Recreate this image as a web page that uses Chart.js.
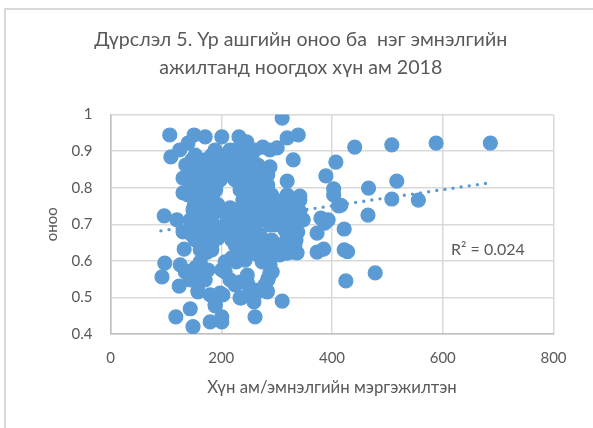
<!DOCTYPE html>
<html><head><meta charset="utf-8">
<script src="https://cdn.jsdelivr.net/npm/chart.js@4"></script>
<style>
html,body{margin:0;padding:0;background:#fff;overflow:hidden}
#wrap{position:relative;width:593px;height:428px}
#wrap:before{content:"";position:absolute;left:4px;top:8px;right:-5px;bottom:-5px;border:2px solid #d9d9d9}
canvas{position:absolute;left:0;top:0}
</style></head><body>
<div id="wrap"><canvas id="c" width="593" height="428"></canvas></div>
<script>
const chartTitle = ["Дүрслэл 5. Үр ашгийн оноо ба  нэг эмнэлгийн", "ажилтанд ноогдох хүн ам 2018"];
const xAxisTitle = "Хүн ам/эмнэлгийн мэргэжилтэн";
const yAxisTitle = "оноо";
const r2Label = "R² = 0.024";
const population = [
441,508,588,686,466,517,508,556,465,478,425,422,422,428,416,407,310,339,319,330,288,389,403,403,412,342,342,319,380,393,373,387,373,385,
310,261,236,259,283,270,288,285,337,319,144,118,149,180,201,201,189,189,234,
98,93,124,126,158,133,107,109,131,131,151,97,120,151,171,201,232,140,246,275,125,301,
189,216,243,261,288,
147,171,194,216,239,256,
147,171,194,216,243,261,
153,171,198,225,252,274,
153,174,190,234,256,279,
156,183,239,261,284,312,328,
149,171,198,225,252,279,306,333,
144,171,183,216,243,270,297,324,348,
153,180,207,234,261,288,315,333,
147,171,198,225,252,270,324,335,
171,183,225,252,279,306,333,
174,162,176,153,140,207,201,219,243,266,288,306,328,288,292,284,279,247,207,216,234,247,261,283,158,171,144,198,203,189,
153,183,207,230,250,
136,158,183,205,228,252,266,
144,162,183,209,234,263,279,
144,162,183,245,266,284,
140,167,185,243,266,291,319,
158,185,216,239,266,291,319,
158,183,209,234,259,284,311,335,
131,158,183,216,239,261,315,338,
153,176,194,219,243,266,291,320,335,
162,183,230,261,288,315,
243,274,227,162,144,180,135,274,225,252,
274,297,320,297,342,318,279,249,274,234,219,194,171,162,171,156,284,248,225];
const score = [
.911,.917,.922,.922,.799,.818,.769,.766,.725,.567,.545,.687,.63,.625,.752,.87,.99,.944,.936,.876,.857,.832,.797,.78,.75,.777,.766,.818,.717,.712,.676,.703,.624,.632,
.49,.447,.499,.488,.518,.518,.567,.553,.622,.621,.469,.447,.42,.433,.433,.447,.493,.477,.499,
.594,.556,.531,.589,.518,.632,.944,.884,.826,.786,.75,.723,.712,.944,.939,.939,.939,.922,.925,.911,.903,.909,
.903,.903,.903,.903,.903,
.876,.876,.876,.876,.876,.876,
.848,.848,.848,.848,.848,.848,
.821,.821,.821,.821,.821,.821,
.794,.794,.794,.794,.794,.794,
.766,.766,.766,.766,.766,.766,.766,
.739,.739,.739,.739,.739,.739,.739,.739,
.712,.712,.712,.712,.712,.712,.712,.712,.712,
.698,.698,.698,.698,.698,.698,.698,.698,
.671,.671,.671,.671,.671,.671,.671,.671,
.643,.643,.643,.643,.643,.643,.643,
.623,.597,.575,.581,.57,.597,.575,.608,.616,.616,.608,.616,.624,.589,.57,.548,.534,.561,.57,.548,.542,.542,.52,.515,.515,.548,.57,.512,.507,.48,
.889,.889,.889,.889,.889,
.862,.862,.862,.862,.862,.862,.862,
.835,.835,.835,.835,.835,.835,.835,
.807,.807,.807,.807,.807,.807,
.78,.78,.78,.78,.78,.78,.78,
.753,.753,.745,.753,.753,.753,.753,
.725,.725,.725,.725,.725,.725,.725,.725,
.679,.684,.684,.684,.684,.684,.684,.679,
.657,.657,.662,.657,.657,.657,.657,.657,.657,
.63,.63,.63,.63,.63,.63,
.602,.597,.597,.548,.548,.507,.57,.52,.534,.52,
.753,.739,.734,.698,.734,.657,.63,.657,.651,.698,.725,.753,.78,.725,.643,.698,.835,.862,.903];
const trendX = [91, 684];
const trendY = [0.682, 0.813];

const blue = "#5b9bd5", ink = "#595959", grid = "#d9d9d9";
const fontName = "Lato, 'Open Sans', sans-serif";
const points = population.map((x,i)=>({x, y:score[i]}));
const trend = trendX.map((x,i)=>({x, y:trendY[i]}));

const r2Plugin = {id:"r2", afterDatasetsDraw(ch){
  const {ctx, scales:{x,y}} = ch;
  ctx.save(); ctx.fillStyle = ink; ctx.font = "16px " + fontName;
  ctx.textAlign = "left"; ctx.textBaseline = "middle";
  ctx.fillText(r2Label, x.getPixelForValue(615), y.getPixelForValue(0.63));
  ctx.restore();
}};

new Chart(document.getElementById("c"), {
  type:"scatter",
  data:{datasets:[
    {data:trend, showLine:true, pointRadius:0, borderColor:blue, borderWidth:3.4, borderDash:[0,8.2], borderCapStyle:"round", fill:false, order:0},
    {data:points, pointRadius:7, pointBackgroundColor:blue, pointBorderColor:blue, pointBorderWidth:1.2, showLine:false, order:1}
  ]},
  plugins:[r2Plugin],
  options:{
    responsive:false, animation:false, devicePixelRatio:1,
    layout:{padding:{left:48,right:39.5,top:0,bottom:30}},
    plugins:{
      legend:{display:false}, tooltip:{enabled:false},
      title:{display:true, text:chartTitle, color:ink, font:{family:fontName,size:19.6,weight:"normal",lineHeight:28/19.6}, padding:{top:26,bottom:32.5}}
    },
    scales:{
      x:{type:"linear", min:0, max:800, afterFit(s){s.height=64},
        ticks:{stepSize:200, color:ink, font:{family:fontName,size:15}, padding:15, maxRotation:0},
        grid:{color:grid,lineWidth:1.5,drawTicks:false}, border:{color:"#bfbfbf",width:1.5},
        title:{display:true,text:xAxisTitle,color:ink,font:{family:fontName,size:16.8},padding:{top:0,bottom:0}}},
      y:{type:"linear", min:0.4, max:1, afterFit(s){s.width=62.5},
        ticks:{stepSize:0.1, color:ink, font:{family:fontName,size:15}, padding:18, callback:v=>String(Math.round(v*10)/10)},
        grid:{color:grid,lineWidth:1.5,drawTicks:false}, border:{color:"#bfbfbf",width:1.5},
        title:{display:true,text:yAxisTitle,color:ink,font:{family:fontName,size:15,lineHeight:0.6},padding:{top:0,bottom:0}}}
    }
  }
});
</script>
</body></html>
